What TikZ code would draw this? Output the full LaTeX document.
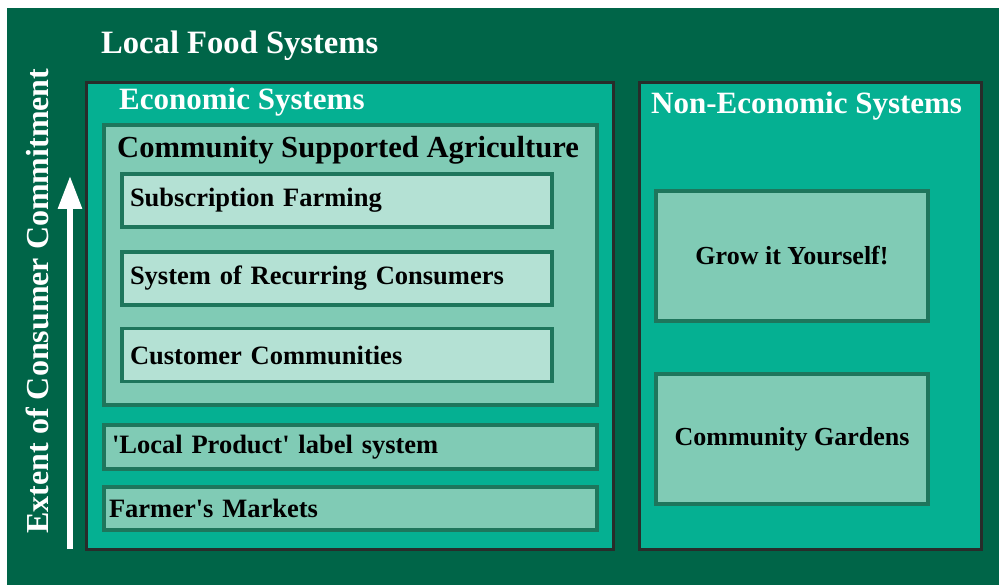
\documentclass[tikz,border=0pt]{standalone}
\usepackage{fontspec}
\setmainfont{Liberation Serif}[Ligatures=TeXOff]
\usetikzlibrary{arrows.meta}
\definecolor{lfs_dark}{RGB}{0,101,72}
\definecolor{lfs_teal}{RGB}{5,176,146}
\definecolor{lfs_mid}{RGB}{128,203,181}
\definecolor{lfs_light}{RGB}{180,225,212}
\definecolor{lfs_edge}{RGB}{30,118,92}
\definecolor{lfs_frame}{RGB}{40,44,42}
\tikzset{
	box_sys/.style = {
		rectangle,
		draw=lfs_frame,
		fill=lfs_teal,
		line width=3pt,
		inner sep=0pt
	},
	box_csa/.style = {
		rectangle,
		draw=lfs_edge,
		fill=lfs_mid,
		line width=3.5pt,
		inner sep=0pt
	},
	box_item/.style = {
		box_csa,
		fill=lfs_light,
		minimum height=53pt,
		text width=414pt,
		inner xsep=8pt,
		align=left,
		font=\fontsize{26.5}{32}\selectfont\bfseries
	},
	box_low/.style = {
		box_item,
		fill=lfs_mid,
		text width=477pt,
		minimum height=44pt
	},
	box_diy/.style = {
		box_csa,
		minimum width=272pt,
		minimum height=130pt,
		align=center,
		font=\fontsize{26}{31}\selectfont\bfseries
	},
	title_w/.style = {
		anchor=base west,
		inner sep=0pt,
		white,
		font=\fontsize{31}{36}\selectfont\bfseries
	},
	title_b/.style = {
		title_w,
		black,
		font=\fontsize{30.6}{36}\selectfont\bfseries
	}
}

\begin{document}
\begin{tikzpicture}[x=1pt,y=-1pt]
\useasboundingbox (0,0) rectangle (999,585);
\fill[lfs_dark] (7,8) rectangle (999,585);
\node [title_w, font=\fontsize{32.6}{38}\selectfont\bfseries] (lfs) at (101,54) {Local Food Systems};
% economic side
\node [box_sys, minimum width=527pt, minimum height=466pt] (econ) at (349.5,316) {};
\node [title_w] (econ_t) at (119,110) {Economic Systems};
\node [box_csa, minimum width=493pt, minimum height=280pt] (csa) at (350.5,265) {};
\node [title_b] (csa_t) at (117,158) {Community Supported Agriculture};
\node [box_item] (subs) at (337,200.5) {Subscription Farming};
\node [box_item] (recur) at (337,278.5) {System of Recurring Consumers};
\node [box_item] (cust) at (337,355) {Customer Communities};
\node [box_low] (label) at (350.5,447) {'Local Product' label system};
\node [box_low, minimum height=43pt, inner xsep=5pt, text width=483pt] (market) at (350.5,508.5) {Farmer's Markets};
% non-economic side
\node [box_sys, minimum width=342pt, minimum height=466pt] (noneco) at (810,316) {};
\node [title_w] (noneco_t) at (651,114) {Non-Economic Systems};
\node [box_diy] (grow) at (792,256) {Grow it Yourself!};
\node [box_diy] (garden) at (792,439) {Community Gardens};
% commitment axis
\coordinate (ax_lo) at (70,549);
\coordinate (ax_hi) at (70,176);
\draw [white, line width=6pt, -{Triangle[width=23pt,length=33pt]}] (ax_lo) -- (ax_hi);
\node [title_w, anchor=base, rotate=90, font=\fontsize{32}{38}\selectfont\bfseries] (axis_t) at (48,301) {Extent of Consumer Commitment};
\end{tikzpicture}
\end{document}
